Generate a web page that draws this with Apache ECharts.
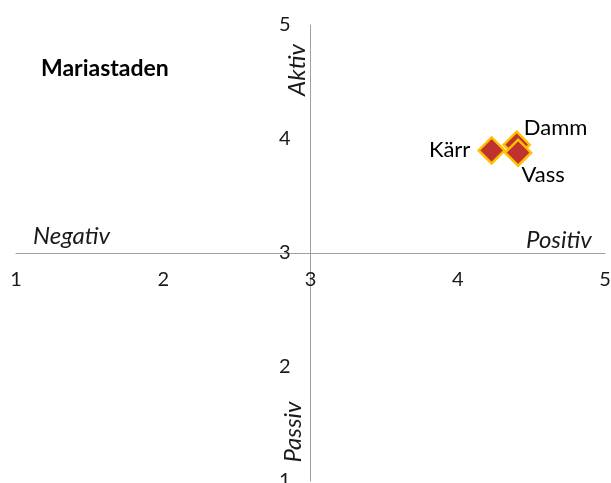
<!DOCTYPE html>
<html lang="sv">
<head>
    <meta charset="UTF-8">
    <title>Mariastaden</title>
    <style>
        *{
            padding:0;
            margin:0;
        }
    </style>
</head>
<script src="https://cdn.jsdelivr.net/npm/echarts@6/dist/echarts.min.js"></script>
<body>
    <div id="main" style="width: 611px;height: 483px;"></div>
    <script>
        // värden
        var names = ['Damm', 'Kärr', 'Vass'];
        var xValues = [4.40, 4.23, 4.41];
        var yValues = [3.95, 3.90, 3.88];
        // etikettens förskjutning från punkten (px)
        var labelOffsets = [[39, -17], [-42, 0], [25, 22]];

        var font = 'Lato, "Open Sans", sans-serif';
        var axisGray = '#a0a0a0';

        // rutnätets mått, axlarna korsar i (3,3)
        var gLeft = 16, gRight = 6, gTop = 25, gBottom = 2;
        var gW = 611 - gLeft - gRight;
        var gH = 483 - gTop - gBottom;

        var myChart = echarts.init(document.getElementById('main'));

        var points = [];
        for (var i = 0; i < names.length; i++) {
            points.push({
                name: names[i],
                value: [xValues[i], yValues[i]],
                label: {offset: labelOffsets[i]}
            });
        }

        var option = {
            backgroundColor: '#fff',
            grid: {
                left: gLeft,
                right: gRight,
                top: gTop,
                bottom: gBottom,
                containLabel: false,
                outerBoundsMode: 'none'
            },
            xAxis: {
                type: 'value',
                min: 1,
                max: 5,
                interval: 1,
                offset: -gH / 2,
                axisLine: {
                    onZero: false,
                    lineStyle: {color: axisGray, width: 1}
                },
                axisTick: {show: false},
                splitLine: {show: false},
                axisLabel: {
                    color: '#1a1a1a',
                    fontFamily: font,
                    fontSize: 20,
                    margin: 17,
                    showMinLabel: true,
                    showMaxLabel: true,
                    hideOverlap: false
                }
            },
            yAxis: {
                type: 'value',
                min: 1,
                max: 5,
                interval: 1,
                offset: -gW / 2,
                axisLine: {
                    onZero: false,
                    lineStyle: {color: axisGray, width: 1}
                },
                axisTick: {show: false},
                splitLine: {show: false},
                axisLabel: {
                    color: '#1a1a1a',
                    fontFamily: font,
                    fontSize: 20,
                    margin: 20,
                    showMinLabel: true,
                    showMaxLabel: true,
                    hideOverlap: false
                }
            },
            graphic: [
                {type: 'text', x: 41, y: 69, style: {text: 'Mariastaden', font: 'bold 23px ' + font, fill: '#000', verticalAlign: 'middle'}},
                {type: 'text', x: 33, y: 236, style: {text: 'Negativ', font: 'italic 24px ' + font, fill: '#1a1a1a', verticalAlign: 'middle'}},
                {type: 'text', x: 526, y: 240, style: {text: 'Positiv', font: 'italic 24px ' + font, fill: '#1a1a1a', verticalAlign: 'middle'}},
                {type: 'text', x: 297, y: 70, rotation: Math.PI / 2, style: {text: 'Aktiv', font: 'italic 24px ' + font, fill: '#1a1a1a', align: 'center', verticalAlign: 'middle'}},
                {type: 'text', x: 293, y: 432, rotation: Math.PI / 2, style: {text: 'Passiv', font: 'italic 24px ' + font, fill: '#1a1a1a', align: 'center', verticalAlign: 'middle'}}
            ],
            series: [
                {
                    type: 'scatter',
                    data: points,
                    symbol: 'diamond',
                    symbolSize: [26, 26],
                    itemStyle: {
                        color: '#c0322e',
                        opacity: 1,
                        borderColor: '#ffc000',
                        borderWidth: 2.5
                    },
                    label: {
                        show: true,
                        position: 'inside',
                        formatter: '{b}',
                        color: '#000',
                        fontFamily: font,
                        fontSize: 22
                    }
                }
            ]
        };

        myChart.setOption(option);
    </script>
</body>
</html>
